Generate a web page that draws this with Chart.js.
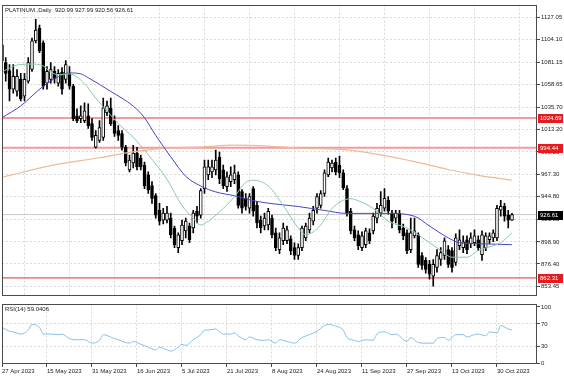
<!DOCTYPE html>
<html><head><meta charset="utf-8">
<script src="https://cdn.jsdelivr.net/npm/chart.js@4/dist/chart.umd.min.js"></script>
<style>
html,body{margin:0;padding:0;background:#fff;}
#wrap{position:relative;width:564px;height:376px;overflow:hidden;background:#fff;}
#c1{position:absolute;left:0;top:0;}
#c2{position:absolute;left:0;top:299px;}
</style></head><body>
<div id="wrap">
<canvas id="c1" width="564" height="300"></canvas>
<canvas id="c2" width="564" height="77"></canvas>
</div>
<script>
// ---------- data ----------
const chartTitle = 'PLATINUM.,Daily  920.99 927.99 920.56 926.61';
const rsiTitle = 'RSI(14) 59.0406';
const dateLabels = ['27 Apr 2023','15 May 2023','31 May 2023','16 Jun 2023','5 Jul 2023','21 Jul 2023','8 Aug 2023','24 Aug 2023','11 Sep 2023','27 Sep 2023','13 Oct 2023','30 Oct 2023'];
const dateTickBars = [0,12,24,36,48,60,72,84,96,108,120,132];
const priceTicks = [853.45,876.40,898.90,921.85,944.80,967.30,990.25,1013.20,1035.70,1058.65,1081.15,1104.10,1127.05];
const rsiTicks = [0,30,70,100];
const levelValues = [1024.69, 994.44, 862.31];
const lastPrice = 926.61;

const opens = [1099,1081,1073,1054,1052,1064,1047,1062,1074,1103,1116,1101,1060,1064,1072,1060,1071,1064,1070,1057,
1027,1024,1022,1027,1019,995,1002,1005,1030,1035,1022,1012,1009,995,972,979,989,984,977,967,
956,946,931,921,921,923,913,893,900,910,915,913,930,926,953,967,970,972,985,972,
955,960,962,967,950,943,933,953,936,921,915,916,923,908,891,900,900,902,893,885,
893,903,911,920,933,936,948,967,974,980,977,969,953,930,911,906,893,896,908,910,
923,928,933,941,928,923,928,913,908,891,905,906,885,880,876,864,873,881,885,891,
890,878,895,893,901,897,898,901,886,893,901,903,903,931,935,926,920.99];
const highs = [1103,1086,1079,1079,1074,1070,1070,1086,1106,1125,1119,1103,1077,1081,1077,1074,1076,1083,1077,1059,
1034,1037,1040,1039,1024,1012,1022,1045,1042,1045,1027,1017,1012,997,987,997,995,987,980,970,
960,948,938,933,935,928,915,908,921,923,918,931,935,953,982,982,982,992,990,977,
970,975,977,970,952,948,948,955,940,925,928,933,926,913,908,918,915,905,898,897,
915,918,928,935,948,951,972,984,982,984,986,972,956,933,915,910,909,913,912,928,
938,950,953,945,931,931,931,917,911,923,923,908,888,883,880,881,891,893,903,895,
893,907,911,905,905,908,911,905,910,908,908,911,936,941,938,931,927.99];
const lows = [1079,1062,1042,1050,1047,1042,1042,1060,1072,1101,1091,1054,1054,1060,1060,1057,1049,1060,1054,1022,
1020,1020,1020,1014,1002,994,1000,1002,1027,1017,1006,1002,992,976,970,974,972,972,953,948,
938,923,916,917,918,903,893,888,896,903,898,908,918,923,948,962,964,967,958,953,
950,955,958,933,928,931,928,925,913,908,911,911,903,890,887,896,897,886,881,881,
890,900,908,916,928,933,945,965,970,967,964,952,925,907,900,891,890,893,897,907,
918,925,930,927,913,918,908,901,887,888,903,873,871,867,861,854,868,875,881,873,
868,875,891,888,887,893,895,890,880,890,897,899,900,925,920,913,920.56];
const closes = [1083,1070,1054,1067,1067,1044,1064,1081,1103,1114,1093,1057,1072,1074,1065,1070,1054,1079,1057,1024,
1022,1027,1032,1017,1005,1007,1015,1035,1037,1019,1009,1007,995,979,982,989,975,975,956,952,
943,926,920,928,928,906,896,906,916,920,901,928,925,951,975,975,975,982,963,956,
965,967,969,936,933,935,945,930,918,913,923,930,906,893,903,913,911,890,885,893,
913,915,923,931,945,948,969,980,979,970,969,954,928,910,903,895,905,910,900,925,
933,936,943,930,920,928,911,905,890,908,910,876,875,871,866,876,885,888,900,876,
873,903,901,899,891,903,905,893,906,905,905,908,933,935,925,921,926.61];

// moving averages: bar index + value
const maSlowBars = [0,13,26,35,44,53,62,71,79,92,101,110,119,127,136];
const maSlowVals = [964.5,976.4,984.3,990.3,994.2,995.2,997.2,996.2,994.2,992.3,987.3,980.4,972.4,966.5,961.5];
const maMidBars = [0,5,11,15,18,21,23,29,35,38,41,45,49,53,57,62,67,72,79,86,92,97,103,110,114,119,122,127,136];
const maMidVals = [1025,1037,1057,1066.6,1070.5,1069.5,1065.6,1051.7,1036.8,1025,1007,985.3,965.5,955.6,949.6,945.7,940.7,937.7,934.8,930.8,927.8,927.8,927.8,924.9,915,903,898,897,896];
const maFastBars = [0,4,8,11,13,15,18,22,25,28,31,35,39,44,48,51,53,55,59,62,65,67,71,75,79,81,85,88,93,95,99,103,108,111,117,120,124,127,133,136];
const maFastVals = [1071.5,1078.5,1079.5,1077.5,1071.5,1068.6,1069.5,1059.6,1044.8,1031.9,1019,1005.1,987.3,962.5,935.8,922.9,916,919.9,932.8,944.7,959.5,961.5,955.6,935.8,913,906,916,932.8,942.7,940.7,932.8,919.9,913,906,890.2,883.3,883.3,890.2,898.1,908];

// RSI(14)
const rsiBars = [0,2,3,5,7,8,10,11,13,15,16,18,20,22,24,26,27,30,31,34,35,37,39,41,42,43,45,47,48,49,51,53,54,55,57,58,59,61,62,63,65,66,68,70,71,73,74,76,78,80,82,84,86,87,89,91,92,94,95,97,99,100,102,104,105,108,109,111,113,115,116,118,119,121,123,124,126,127,129,130,132,133,135,136];
const rsiVals = [64,57,56,52,59,69,64,52,52,51,52,44,42,42,36,41,51,44,42,36,39,34,29,24,29,27,22,29,34,32,42,51,59,59,61,56,52,52,54,49,42,47,42,41,42,36,42,39,36,46,51,57,67,69,66,59,46,41,39,42,41,52,56,51,52,39,46,37,36,36,44,46,41,51,51,47,51,52,49,56,54,67,61,59.04];

// ---------- helpers ----------
const FONT = '"Liberation Sans", Arial, sans-serif';
const X_MIN = 0, X_MAX = 142.67;
const pts = (xs, ys) => xs.map((x, i) => ({x: x, y: ys[i]}));
const hline = v => [{x: X_MIN, y: v}, {x: X_MAX, y: v}];
const barIdx = opens.map((_, i) => i);
const bodyData = barIdx.map(i => ({x: i, y: [opens[i], closes[i]]}));
const wickData = barIdx.map(i => ({x: i, y: [lows[i], highs[i]]}));
const GRID = '#d9d9d9';
const AXIS = '#4a4a4a';

const mainDeco = {
  id: 'mainDeco',
  afterDraw(chart) {
    const {ctx, chartArea: a} = chart;
    const ys = chart.scales.y;
    ctx.save();
    ctx.strokeStyle = AXIS; ctx.lineWidth = 1;
    ctx.strokeRect(Math.round(a.left) + 0.5, Math.round(a.top) + 0.5, Math.round(a.right - a.left) - 1, Math.round(a.bottom - a.top) - 1);
    ctx.font = '6px ' + FONT;
    ctx.fillStyle = '#222'; ctx.textBaseline = 'middle'; ctx.textAlign = 'left';
    ctx.fillText(chartTitle, a.left + 3, a.top + 6);
    const boxes = levelValues.map(v => ({v: v, bg: '#e8191f'})).concat([{v: lastPrice, bg: '#000'}]);
    boxes.forEach(b => {
      const y = ys.getPixelForValue(b.v);
      ctx.fillStyle = b.bg;
      ctx.fillRect(a.right + 1, Math.round(y) - 4, 25, 9);
      ctx.fillStyle = '#fff';
      ctx.fillText(b.v.toFixed(2), a.right + 3, Math.round(y) + 0.5);
    });
    ctx.restore();
  }
};
const rsiDeco = {
  id: 'rsiDeco',
  afterDraw(chart) {
    const {ctx, chartArea: a} = chart;
    ctx.save();
    ctx.strokeStyle = AXIS; ctx.lineWidth = 1;
    ctx.strokeRect(Math.round(a.left) + 0.5, Math.round(a.top) + 0.5, Math.round(a.right - a.left) - 1, Math.round(a.bottom - a.top) - 1);
    ctx.font = '6px ' + FONT;
    ctx.fillStyle = '#222'; ctx.textBaseline = 'middle'; ctx.textAlign = 'left';
    ctx.fillText(rsiTitle, a.left + 3, a.top + 6);
    ctx.restore();
  }
};

const lineDs = (data, color, width, order) => ({type: 'line', data: data, borderColor: color, borderWidth: width, pointRadius: 0, cubicInterpolationMode: 'monotone', order: order});

new Chart(document.getElementById('c1'), {
  type: 'line',
  data: { datasets: [
    lineDs(hline(lastPrice), '#c8c8c8', 1, 30),
    lineDs(hline(levelValues[0]), '#f39a9a', 2, 20),
    lineDs(hline(levelValues[1]), '#f39a9a', 2, 20),
    lineDs(hline(levelValues[2]), '#e45a5a', 1.2, 20),
    {type: 'bar', data: wickData, backgroundColor: '#000', borderWidth: 0, grouped: false, categoryPercentage: 1, barPercentage: 1, maxBarThickness: 1, order: 6},
    {type: 'bar', data: bodyData,
      backgroundColor: c => (c.dataIndex !== undefined && closes[c.dataIndex] >= opens[c.dataIndex]) ? '#ffffff' : '#000000',
      borderColor: '#000', borderWidth: 1, borderSkipped: false, grouped: false, categoryPercentage: 1, barPercentage: 1, maxBarThickness: 3, order: 5},
    lineDs(pts(maSlowBars, maSlowVals), '#ecbb98', 1.2, 3),
    lineDs(pts(maMidBars, maMidVals), '#4747c2', 1, 2),
    lineDs(pts(maFastBars, maFastVals), '#8ccaa6', 1, 1)
  ]},
  options: {
    responsive: false, animation: false, devicePixelRatio: 1, events: [],
    layout: {padding: {top: 1, left: 2, right: 0, bottom: 1}},
    plugins: {legend: {display: false}, tooltip: {enabled: false}},
    scales: {
      x: {type: 'linear', min: X_MIN, max: X_MAX, offset: false,
        afterBuildTicks: s => { s.ticks = dateTickBars.map(v => ({value: v})); },
        afterFit: s => { s.height = 0; },
        ticks: {display: false},
        grid: {color: GRID, drawTicks: false, tickLength: 0},
        border: {display: false, dash: [2, 2]}},
      y: {type: 'linear', position: 'right', min: 844.5, max: 1139.9,
        afterBuildTicks: s => { s.ticks = priceTicks.map(v => ({value: v})); },
        afterFit: s => { s.width = 27; },
        ticks: {padding: 1, font: {family: FONT, size: 6}, color: '#222', callback: v => Number(v).toFixed(2)},
        grid: {color: GRID, tickLength: 3, tickColor: AXIS, tickBorderDash: []},
        border: {display: false, dash: [2, 2]}}
    }
  },
  plugins: [mainDeco]
});

new Chart(document.getElementById('c2'), {
  type: 'line',
  data: { datasets: [ lineDs(pts(rsiBars, rsiVals), '#86c0ea', 1, 1) ] },
  options: {
    responsive: false, animation: false, devicePixelRatio: 1, events: [],
    layout: {padding: {top: 1, left: 2, right: 0, bottom: 0}},
    plugins: {legend: {display: false}, tooltip: {enabled: false}},
    scales: {
      x: {type: 'linear', min: X_MIN, max: X_MAX, offset: false,
        afterBuildTicks: s => { s.ticks = dateTickBars.map(v => ({value: v})); },
        afterFit: s => { s.height = 12; },
        ticks: {autoSkip: false, maxRotation: 0, align: 'start', padding: 1, font: {family: FONT, size: 6}, color: '#222',
          callback: v => { const k = dateTickBars.indexOf(v); return k >= 0 ? dateLabels[k] : ''; }},
        grid: {color: GRID, tickLength: 3, tickColor: AXIS, tickBorderDash: []},
        border: {display: false, dash: [2, 2]}},
      y: {type: 'linear', position: 'right', min: -0.8, max: 105.8,
        afterBuildTicks: s => { s.ticks = rsiTicks.map(v => ({value: v})); },
        afterFit: s => { s.width = 27; },
        ticks: {padding: 1, font: {family: FONT, size: 6}, color: '#222', callback: v => String(v)},
        grid: {color: c => (c.tick && (c.tick.value === 30 || c.tick.value === 70)) ? GRID : 'rgba(0,0,0,0)', tickLength: 3, tickColor: AXIS, tickBorderDash: []},
        border: {display: false, dash: [2, 2]}}
    }
  },
  plugins: [rsiDeco]
});
</script>
</body></html>
